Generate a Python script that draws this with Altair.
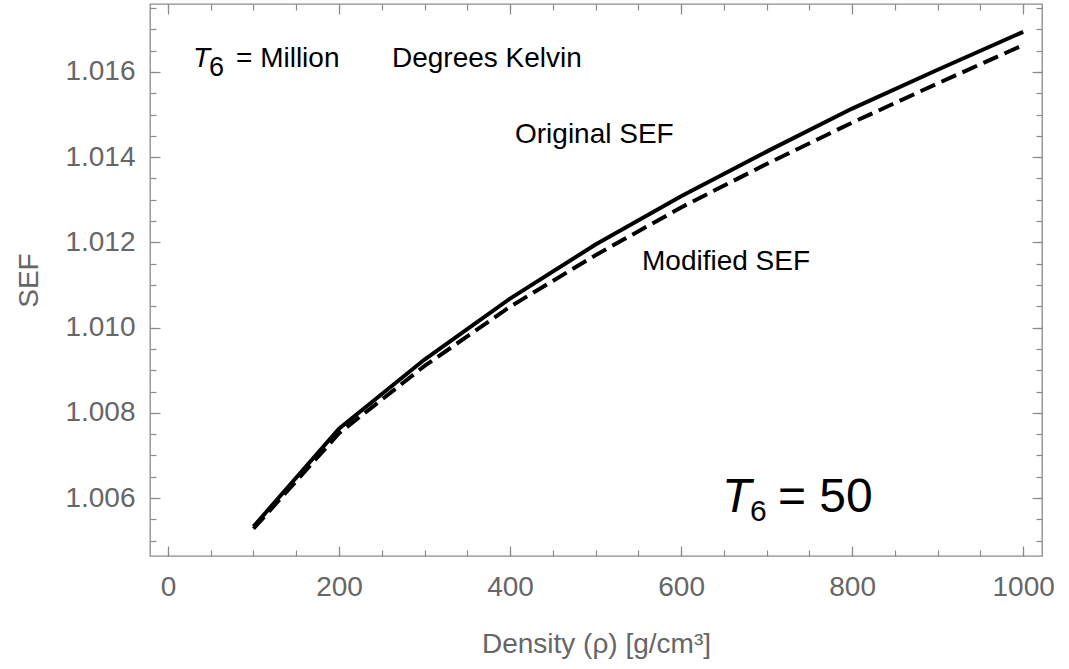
import altair as alt
import pandas as pd

# ---- data ----
density = [100, 200, 300, 400, 500, 600, 700, 800, 900, 1000]
original_sef = [1.00533, 1.00763, 1.00925, 1.01068, 1.01195, 1.01308, 1.01413, 1.01514, 1.01605, 1.01694]
modified_sef = [1.00528, 1.00752, 1.00910, 1.01049, 1.01170, 1.01282, 1.01384, 1.01481, 1.01573, 1.01663]

x_major = [0, 200, 400, 600, 800, 1000]
x_minor = [v * 50 for v in range(0, 21)]
y_major = [1.006, 1.008, 1.010, 1.012, 1.014, 1.016]
y_minor = [round(1.0050 + 0.0005 * i, 4) for i in range(0, 26)]

x_title = "Density (ρ) [g/cm³]"
y_title = "SEF"

FONT = "Liberation Sans"
GRAY_TXT = "#666666"
GRAY_LN = "#8a8a8a"

df_orig = pd.DataFrame({"density": density, "sef": original_sef})
df_mod = pd.DataFrame({"density": density, "sef": modified_sef})

xscale = alt.Scale(domain=[-21, 1022], nice=False, zero=False)
yscale = alt.Scale(domain=[1.00464, 1.017594], nice=False, zero=False)


def tick_axis(orient, values, size):
    return alt.Axis(orient=orient, values=values, offset=-size, tickSize=size,
                    labels=False, domain=False, grid=False, title=None,
                    tickColor=GRAY_LN, tickWidth=1.2)


x_lab_axis = alt.Axis(orient="bottom", values=x_major, ticks=False, domain=False, grid=False,
                      labelPadding=17, labelFontSize=28, labelColor=GRAY_TXT, labelFont=FONT,
                      format="d", title=x_title, titleFont=FONT, titleFontSize=28,
                      titleFontWeight="normal", titleColor=GRAY_TXT, titleX=446, titleY=96,
                      titleAlign="center", titleBaseline="alphabetic")
y_lab_axis = alt.Axis(orient="left", values=y_major, ticks=False, domain=False, grid=False,
                      labelPadding=15, labelFontSize=28, labelColor=GRAY_TXT, labelFont=FONT,
                      format=".3f", title=y_title, titleFont=FONT, titleFontSize=28,
                      titleFontWeight="normal", titleColor=GRAY_TXT, titleX=-113, titleY=276,
                      titleAngle=-90, titleAlign="center", titleBaseline="alphabetic")

solid = alt.Chart(df_orig).mark_line(color="black", strokeWidth=4).encode(
    x=alt.X("density:Q", scale=xscale, axis=x_lab_axis),
    y=alt.Y("sef:Q", scale=yscale, axis=y_lab_axis),
)
dashed = alt.Chart(df_mod).mark_line(color="black", strokeWidth=4, strokeDash=[16, 7]).encode(
    x=alt.X("density:Q", scale=xscale, axis=None),
    y=alt.Y("sef:Q", scale=yscale, axis=None),
)

tick_layers = []
for xo, yo in [("bottom", "left"), ("top", "right")]:
    for xv, yv, size in [(x_major, y_major, 10), (x_minor, y_minor, 6)]:
        tick_layers.append(
            alt.Chart(df_orig).mark_line(opacity=0).encode(
                x=alt.X("density:Q", scale=xscale, axis=tick_axis(xo, xv, size)),
                y=alt.Y("sef:Q", scale=yscale, axis=tick_axis(yo, yv, size)),
            )
        )

one = pd.DataFrame({"a": [0]})


def label(text, x, y, size=28, italic=False):
    return alt.Chart(one).mark_text(
        text=text, x=x, y=y, align="left", baseline="alphabetic", fontSize=size,
        font=FONT, color="black", fontStyle="italic" if italic else "normal")


texts = [
    label("T", 43, 63, 28, True),
    label("6", 59, 72, 27),
    label("= Million", 86, 63),
    label("Degrees Kelvin", 242, 63),
    label("Original SEF", 365, 139),
    label("Modified SEF", 492, 266),
    label("T", 572, 508, 48, True),
    label("6", 600, 517, 30),
    label("= 50", 628, 508, 48),
]

chart = alt.layer(solid, dashed, *tick_layers, *texts).resolve_axis(
    x="independent", y="independent"
).properties(
    width=892, height=552,
    padding={"left": 150, "top": 4, "right": 27, "bottom": 113},
    autosize=alt.AutoSizeParams(type="none"),
    background="white",
).configure_view(stroke=GRAY_LN, strokeWidth=1.3)

chart.save("out.html", embed_options={"renderer": "svg", "actions": False})
